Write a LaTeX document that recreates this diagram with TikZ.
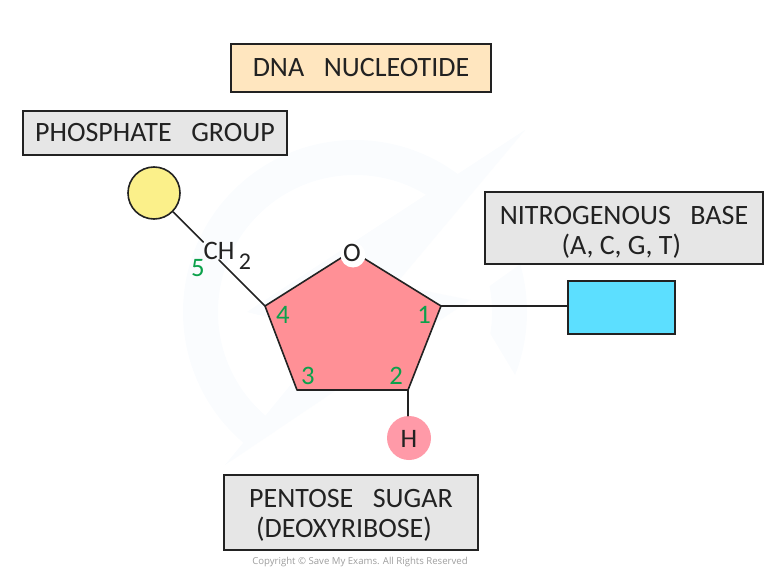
\documentclass[tikz,border=0pt]{standalone}
\usepackage{fontspec}
\setmainfont{Carlito}
\newfontfamily\cpfont{Open Sans}
\definecolor{wm}{HTML}{FAFCFE}
\definecolor{ink}{HTML}{222222}
\definecolor{greybox}{HTML}{E6E6E6}
\definecolor{creambox}{HTML}{FFE6BF}
\definecolor{sugar}{HTML}{FF9096}
\definecolor{hpink}{HTML}{FF9AA8}
\definecolor{phos}{HTML}{FBF08A}
\definecolor{basec}{HTML}{5CDFFF}
\definecolor{num}{HTML}{0BA14B}
\tikzset{
  labelbox/.style={draw=ink,line width=1.2pt,inner sep=0pt,align=center,font=\fontsize{21}{22.5}\selectfont,text=ink},
  bond/.style={draw=ink,line width=1.2pt,line cap=round,line join=round},
  atom/.style={inner sep=0pt,text=ink,font=\fontsize{20}{22}\selectfont},
  carbon/.style={inner sep=0pt,text=num,font=\fontsize{20}{22}\selectfont},
}
\begin{document}
\begin{tikzpicture}[x=0.75pt,y=-0.75pt]
\useasboundingbox (0,0) rectangle (780,584);
% watermark
\fill[wm,even odd rule] (355,312) circle (172) (355,312) circle (137);
\fill[white] (525,130) -- (247,312) -- (333,333) -- (225,470) -- (225,584) -- (300,584) -- (530,400) -- (470,300) -- (540,250) -- cycle;
\fill[wm] (525,130) -- (247,312) -- (333,333) -- (225,465) -- (470,300) -- (395,285) -- cycle;
% pentagon
\coordinate (c4) at (265,306);
\coordinate (apex) at (352,251);
\coordinate (c1) at (441,306);
\coordinate (c2) at (408,390);
\coordinate (c3) at (297,390);
\path[bond,fill=sugar] (c4) -- (apex) -- (c1) -- (c2) -- (c3) -- cycle;
\node[circle,fill=white,minimum size=18.75pt,inner sep=0pt] (oring) at (353,255) {};
\node[atom] (oxy) at (352,253) {O};
% groups
\node[circle,draw=ink,line width=1.2pt,fill=phos,minimum size=39pt,inner sep=0pt] (pg) at (154,193) {};
\node[atom,anchor=center] (ch) at (219,251) {CH};
\node[atom] (sub) at (245,262) {\fontsize{18}{18}\selectfont 2};
\node[circle,fill=hpink,minimum size=33pt,inner sep=0pt] (hyd) at (409,438) {};
\node[atom] (hlab) at (409,439) {H};
\node[draw=ink,line width=1.2pt,fill=basec,minimum width=80pt,minimum height=39.75pt,inner sep=0pt] (nb) at (621.5,307.5) {};
\draw[bond] (pg) -- (ch.north west);
\draw[bond] (ch.south) -- (c4);
\draw[bond] (c1) -- (c1 -| nb.west);
\draw[bond] (c2) -- (c2 |- hyd.north);
% labels
\node[labelbox,fill=creambox,minimum width=195pt,minimum height=36pt] (title) at (361,68) {DNA\hspace{0.7em}NUCLEOTIDE};
\node[labelbox,fill=greybox,minimum width=198pt,minimum height=33pt] (lphos) at (155,133) {PHOSPHATE\hspace{0.7em}GROUP};
\node[labelbox,fill=greybox,minimum width=208.5pt,minimum height=54pt] (lbase) at (624,228) {\rule{0pt}{19.5pt}NITROGENOUS\hspace{0.7em}BASE\\(A, C, G, T)\hspace*{4pt}};
\node[labelbox,fill=greybox,minimum width=190.5pt,minimum height=56.25pt] (lsugar) at (351,512.5) {\rule{0pt}{18.5pt}PENTOSE\hspace{0.7em}SUGAR\\(DEOXYRIBOSE)\hspace*{10.5pt}};
% carbon numbers
\node[carbon] (n5) at (198,268) {5};
\node[carbon] (n4) at (283,315) {4};
\node[carbon] (n1) at (424,315) {1};
\node[carbon] (n2) at (396,376) {2};
\node[carbon] (n3) at (308,376) {3};
\node[inner sep=0pt,text=black!38,font=\cpfont\fontsize{7.2}{9}\selectfont] (copy) at (360,562) {Copyright © Save My Exams. All Rights Reserved};
\end{tikzpicture}
\end{document}
